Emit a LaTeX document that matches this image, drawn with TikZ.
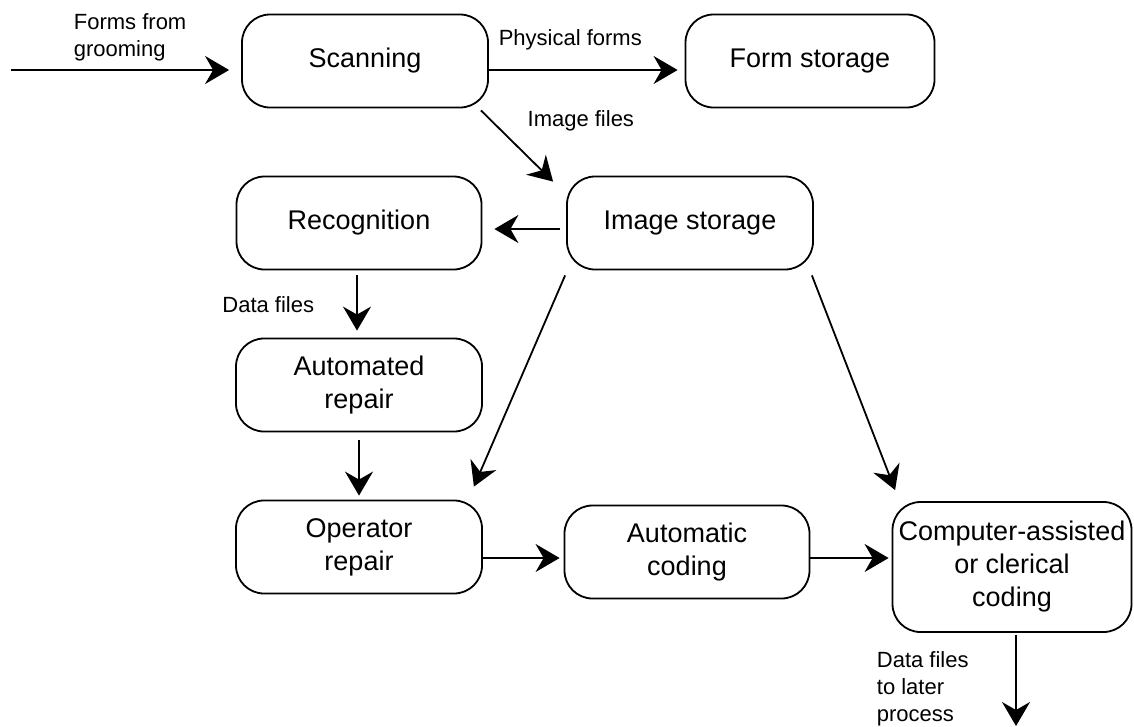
\documentclass[tikz,border=0pt]{standalone}
\usepackage{fontspec}
\setmainfont{Liberation Sans}
\usetikzlibrary{positioning,arrows.meta}

\begin{document}
\begin{tikzpicture}[x=1pt,y=1pt,node distance=162pt,line width=1.8pt,
	>={Stealth[length=24pt,width=28pt,inset=8pt]}]
	\tikzstyle{box}=[draw,rounded corners=28pt,minimum width=246pt,minimum height=93pt,align=center,inner sep=4pt,font=\fontsize{27}{33}\selectfont]
	\tikzstyle{lbl}=[inner sep=0pt,align=left,font=\fontsize{22}{27}\selectfont]
	\useasboundingbox (0,0) rectangle (1134,-726);
		\node[box] (scan) at (365,-61) {Scanning};
		\node[box,minimum width=249pt] (formst) [right of=scan,node distance=445pt] {Form storage};
		\node[box,minimum width=245pt] (recog) [below of=scan,xshift=-6pt] {Recognition};
		\node[box] (imgst) [right of=recog,node distance=331pt] {Image storage};
		\node[box] (autorep) [below of=recog] {Automated\\repair};
		\node[box] (oprep) [below of=autorep] {Operator\\repair};
		\node[box,minimum width=245pt] (autocode) [right of=oprep,node distance=328pt,yshift=-5pt] {Automatic\\coding};
		\node[box,minimum width=239pt,minimum height=130pt] (cac) [right of=autocode,node distance=325pt,yshift=-15pt] {Computer-assisted\\or clerical\\coding};
		\coordinate (in) at (11,-70);
		\coordinate (out) at (1016,-726);
			\draw[->] (in) -- node[lbl,pos=0,anchor=west,xshift=62pt,yshift=33pt] {Forms from\\grooming} ([xshift=-12pt,yshift=-9pt]scan.west);
			\draw[->] ([yshift=-9pt]scan.east) -- node[lbl,pos=0,anchor=west,xshift=9pt,yshift=30pt] {Physical forms} ([xshift=-7pt,yshift=-9pt]formst.west);
			\draw[->] ([xshift=-8pt,yshift=-2pt]scan.south east) -- node[lbl,pos=0.15,anchor=west,xshift=35pt] {Image files} ([xshift=-13pt,yshift=-6pt]imgst.north west);
			\draw[->] ([xshift=-6pt,yshift=-6pt]imgst.west) -- ([xshift=12pt,yshift=-6pt]recog.east);
			\draw[->] ([xshift=-2pt,yshift=-5pt]recog.south) -- node[lbl,pos=0.53,anchor=east,xshift=-42pt] {Data files} ([xshift=-2pt,yshift=7pt]autorep.north);
			\draw[->] ([yshift=-8pt]autorep.south) -- ([yshift=4pt]oprep.north);
			\draw[->] ([xshift=-1pt,yshift=-5pt]imgst.south west) -- ([xshift=-9pt,yshift=13pt]oprep.north east);
			\draw[->] ([xshift=-2pt,yshift=-5pt]imgst.south east) -- ([xshift=3.5pt,yshift=11pt]cac.north west);
			\draw[->] ([yshift=-11pt]oprep.east) -- ([xshift=-4pt,yshift=-6pt]autocode.west);
			\draw[->] ([yshift=-6pt]autocode.east) -- ([xshift=-3pt,yshift=9pt]cac.west);
			\draw[->] ([xshift=4pt,yshift=-2pt]cac.south) -- node[lbl,pos=0.59,anchor=west,xshift=-140pt] {Data files\\to later\\process} (out);
\end{tikzpicture}
\end{document}
